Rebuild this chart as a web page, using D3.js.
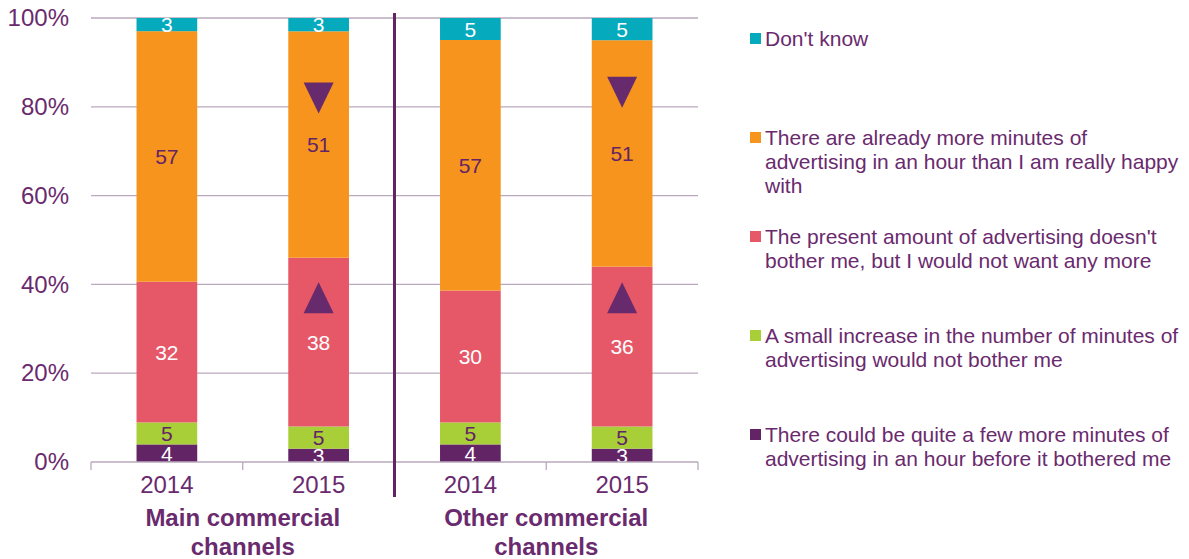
<!DOCTYPE html>
<html>
<head>
<meta charset="utf-8">
<script src="https://cdn.jsdelivr.net/npm/d3@7"></script>
<style>
  html, body { margin: 0; padding: 0; background: #fff; }
  svg { display: block; font-family: "Liberation Sans", Arial, sans-serif; }
</style>
</head>
<body>
<svg id="chart" width="1189" height="559"></svg>
<script>
// Survey bars: share of respondents per attitude, stacked to 100%
const groups = ["Main commercial channels", "Other commercial channels"];
const years = ["2014", "2015"];
const bars = ["Main 2014", "Main 2015", "Other 2014", "Other 2015"];

// Series listed bottom-to-top in stack order
const seriesNames = [
  "There could be quite a few more minutes of advertising in an hour before it bothered me",
  "A small increase in the number of minutes of advertising would not bother me",
  "The present amount of advertising doesn't bother me, but I would not want any more",
  "There are already more minutes of advertising in an hour than I am really happy with",
  "Don't know"
];
const fewMore       = [4, 3, 4, 3];
const smallIncrease = [5, 5, 5, 5];
const presentOk     = [32, 38, 30, 36];
const alreadyMore   = [57, 51, 57, 51];
const dontKnow      = [3, 3, 5, 5];

const seriesColors = ["#632466", "#a8cf38", "#e65768", "#f7941d", "#05aabd"];
const labelColors  = ["#ffffff", "#632466", "#ffffff", "#632466", "#ffffff"];

// Significant change markers (bar, direction, level in % on the axis)
const changeMarkers = [
  { bar: "Main 2015",  dir: "down", level: 82 },
  { bar: "Main 2015",  dir: "up",   level: 37 },
  { bar: "Other 2015", dir: "down", level: 83.3 },
  { bar: "Other 2015", dir: "up",   level: 37 }
];

const yTicks = [0, 20, 40, 60, 80, 100];

const seriesValues = [fewMore, smallIncrease, presentOk, alreadyMore, dontKnow];
const textPurple = "#6a2a6e";

const svg = d3.select("#chart");
const plot = { left: 91, right: 698, top: 18, bottom: 462 };

const x = d3.scaleBand().domain(bars).range([plot.left, plot.right])
  .paddingInner(0.6).paddingOuter(0.3);
const y = d3.scaleLinear().domain([0, 100]).range([plot.bottom, plot.top]);

// Gridlines
svg.append("g").selectAll("line").data(yTicks.filter(t => t > 0)).join("line")
  .attr("x1", plot.left).attr("x2", plot.right)
  .attr("y1", d => y(d)).attr("y2", d => y(d))
  .attr("stroke", "#b9a9bd").attr("stroke-width", 1.3);

// Y axis labels
const yAxis = d3.axisLeft(y).tickValues(yTicks).tickFormat(d => d + "%").tickSize(0).tickPadding(22);
const yG = svg.append("g").attr("transform", `translate(${plot.left},0)`).call(yAxis);
yG.select(".domain").remove();
yG.selectAll("text").attr("font-size", 24).attr("fill", textPurple)
  .attr("font-family", "Liberation Sans, Arial, sans-serif");

// Stack normalised to 100% per bar
const rows = bars.map((b, i) => {
  const r = { bar: b };
  seriesValues.forEach((s, k) => { r["s" + k] = s[i]; });
  return r;
});
const keys = seriesValues.map((_, k) => "s" + k);
const stacked = d3.stack().keys(keys).offset(d3.stackOffsetExpand)(rows);

const layers = svg.append("g").selectAll("g").data(stacked).join("g")
  .attr("fill", (d, k) => seriesColors[k]);
layers.selectAll("rect").data(d => d).join("rect")
  .attr("x", d => x(d.data.bar))
  .attr("width", x.bandwidth())
  .attr("y", d => y(d[1] * 100))
  .attr("height", d => y(d[0] * 100) - y(d[1] * 100));

// Value labels
const labelLayers = svg.append("g").selectAll("g").data(stacked).join("g");
labelLayers.each(function (layer, k) {
  d3.select(this).selectAll("text").data(layer).join("text")
    .attr("x", d => x(d.data.bar) + x.bandwidth() / 2)
    .attr("y", d => y((d[0] + d[1]) / 2 * 100))
    .attr("dy", "0.36em")
    .attr("text-anchor", "middle")
    .attr("font-size", 21)
    .attr("fill", labelColors[k])
    .text(d => d.data[layer.key]);
});

// Change markers: triangles 30 wide, 31 tall
const triPath = d3.line()([[-15, 15.5], [15, 15.5], [0, -15.5]]) + "Z";
svg.append("g").selectAll("path").data(changeMarkers).join("path")
  .attr("d", triPath)
  .attr("fill", "#672a6c")
  .attr("transform", d => `translate(${x(d.bar) + x.bandwidth() / 2},${y(d.level)}) rotate(${d.dir === "down" ? 180 : 0})`);

// Baseline and category ticks
svg.append("line").attr("x1", plot.left).attr("x2", plot.right)
  .attr("y1", plot.bottom).attr("y2", plot.bottom)
  .attr("stroke", "#b9a9bd").attr("stroke-width", 1.3);
const step = x.step();
const boundaries = d3.range(bars.length + 1).map(i => plot.left + i * step);
svg.append("g").selectAll("line").data(boundaries).join("line")
  .attr("x1", d => d).attr("x2", d => d)
  .attr("y1", plot.bottom).attr("y2", plot.bottom + 8)
  .attr("stroke", "#b9a9bd").attr("stroke-width", 1.3);

// Year labels
svg.append("g").selectAll("text").data(bars).join("text")
  .attr("x", d => x(d) + x.bandwidth() / 2)
  .attr("y", 484).attr("dy", "0.36em")
  .attr("text-anchor", "middle").attr("font-size", 24).attr("fill", textPurple)
  .text((d, i) => years[i % 2]);

// Group labels, wrapped onto two lines
const groupCentres = groups.map((g, i) => plot.left + (i * 2 + 1) * step);
groups.forEach((g, i) => {
  const words = g.split(" ");
  const lines = [words.slice(0, 2).join(" "), words.slice(2).join(" ")];
  svg.append("text")
    .attr("x", groupCentres[i]).attr("y", 517)
    .attr("text-anchor", "middle").attr("font-size", 24).attr("font-weight", "bold")
    .attr("fill", textPurple)
    .selectAll("tspan").data(lines).join("tspan")
    .attr("x", groupCentres[i]).attr("dy", (d, j) => j === 0 ? "0.36em" : "1.22em")
    .text(d => d);
});

// Group divider
const divX = plot.left + 2 * step;
svg.append("line").attr("x1", divX).attr("x2", divX).attr("y1", 13).attr("y2", 497)
  .attr("stroke", "#632466").attr("stroke-width", 3);

// Legend, top item first
const legend = svg.append("g");
const legendOrder = d3.range(seriesNames.length).reverse();
const wrapWidth = 420;
legendOrder.forEach((k, idx) => {
  const cy = 38 + idx * 99;
  legend.append("rect").attr("x", 750).attr("y", cy - 5).attr("width", 11).attr("height", 11)
    .attr("fill", seriesColors[k]);
  const t = legend.append("text").attr("x", 765).attr("y", cy)
    .attr("font-size", 21).attr("fill", textPurple);
  const words = seriesNames[k].split(" ");
  let line = [];
  let ts = t.append("tspan").attr("x", 765).attr("dy", "0.36em");
  words.forEach(w => {
    line.push(w);
    ts.text(line.join(" "));
    if (ts.node().getComputedTextLength() > wrapWidth && line.length > 1) {
      line.pop();
      ts.text(line.join(" "));
      line = [w];
      ts = t.append("tspan").attr("x", 765).attr("dy", "1.15em").text(w);
    }
  });
});
</script>
</body>
</html>
